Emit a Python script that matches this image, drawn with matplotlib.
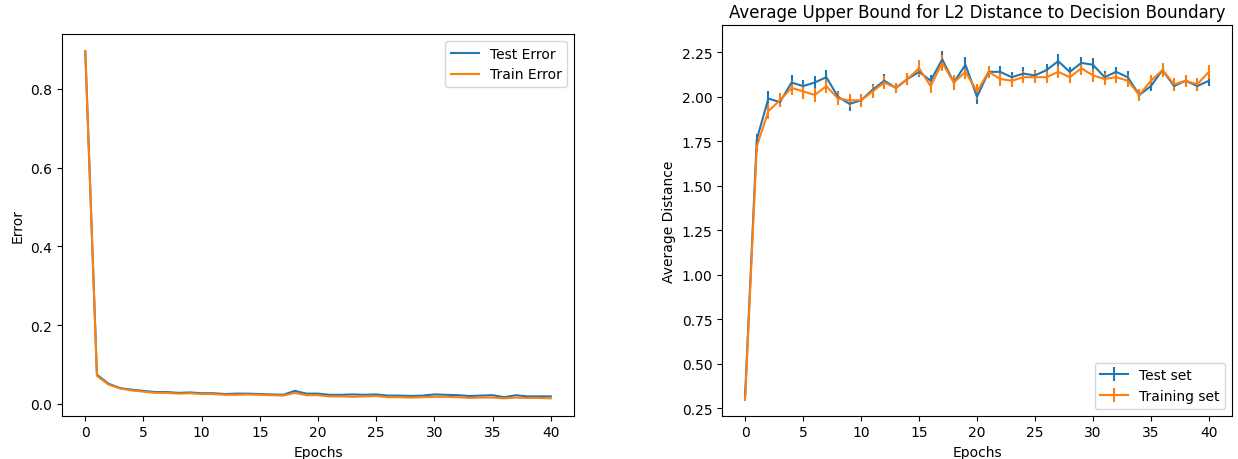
import numpy as np
import matplotlib
matplotlib.use("Agg")
import matplotlib.pyplot as plt

# ── Data ──────────────────────────────────────────────────────
epochs = list(range(41))

test_error = [0.895, 0.074, 0.051, 0.040, 0.036, 0.033, 0.030, 0.030, 0.028, 0.029,
              0.027, 0.027, 0.025, 0.026, 0.026, 0.025, 0.024, 0.023, 0.033, 0.026,
              0.026, 0.023, 0.023, 0.024, 0.023, 0.024, 0.021, 0.021, 0.020, 0.021,
              0.024, 0.023, 0.022, 0.020, 0.021, 0.022, 0.017, 0.022, 0.019, 0.019,
              0.019]
train_error = [0.895, 0.071, 0.049, 0.039, 0.034, 0.031, 0.028, 0.028, 0.026, 0.027,
               0.025, 0.025, 0.023, 0.023, 0.024, 0.023, 0.022, 0.021, 0.028, 0.022,
               0.022, 0.019, 0.019, 0.018, 0.019, 0.020, 0.017, 0.017, 0.016, 0.017,
               0.018, 0.018, 0.017, 0.015, 0.016, 0.016, 0.014, 0.016, 0.015, 0.015,
               0.014]

test_dist = [0.33, 1.76, 1.99, 1.97, 2.08, 2.06, 2.08, 2.11, 2.00, 1.96,
             1.98, 2.04, 2.09, 2.05, 2.10, 2.14, 2.09, 2.21, 2.08, 2.18,
             2.00, 2.14, 2.14, 2.11, 2.13, 2.12, 2.15, 2.20, 2.14, 2.19,
             2.18, 2.11, 2.14, 2.11, 2.01, 2.06, 2.15, 2.06, 2.09, 2.06,
             2.09]
test_err = [0.02, 0.03, 0.045, 0.03, 0.04, 0.035, 0.035, 0.04, 0.03, 0.04,
            0.03, 0.03, 0.04, 0.03, 0.035, 0.03, 0.03, 0.045, 0.035, 0.045,
            0.04, 0.035, 0.035, 0.03, 0.035, 0.03, 0.035, 0.04, 0.03, 0.035,
            0.04, 0.035, 0.03, 0.035, 0.03, 0.03, 0.035, 0.03, 0.03, 0.03,
            0.03]

train_dist = [0.31, 1.72, 1.92, 1.98, 2.05, 2.03, 2.01, 2.06, 1.99, 1.98,
              1.98, 2.03, 2.08, 2.05, 2.10, 2.16, 2.06, 2.19, 2.08, 2.14,
              2.03, 2.14, 2.10, 2.09, 2.11, 2.11, 2.11, 2.14, 2.11, 2.16,
              2.12, 2.10, 2.11, 2.09, 2.01, 2.09, 2.15, 2.07, 2.09, 2.07,
              2.14]
train_err = [0.02, 0.03, 0.045, 0.04, 0.04, 0.04, 0.04, 0.04, 0.035, 0.035,
             0.035, 0.035, 0.035, 0.03, 0.035, 0.045, 0.04, 0.045, 0.04, 0.04,
             0.04, 0.035, 0.04, 0.035, 0.035, 0.035, 0.035, 0.035, 0.035, 0.035,
             0.035, 0.035, 0.035, 0.035, 0.035, 0.035, 0.04, 0.035, 0.035, 0.035,
             0.04]

# ── Figure ───────────────────────────────────────────────────
fig = plt.figure(figsize=(12.38, 4.6), dpi=100)

ax1 = fig.add_axes([0.0501, 0.0941, 0.4136, 0.8298])
ax1.plot(epochs, test_error, label="Test Error")
ax1.plot(epochs, train_error, label="Train Error")
ax1.set_xlabel("Epochs")
ax1.set_ylabel("Error")
ax1.set_xticks(range(0, 41, 5))
ax1.legend(loc="upper right")

ax2 = fig.add_axes([0.5832, 0.0941, 0.4120, 0.8493])
ax2.errorbar(epochs, test_dist, yerr=test_err, label="Test set")
ax2.errorbar(epochs, train_dist, yerr=train_err, label="Training set")
ax2.set_title("Average Upper Bound for L2 Distance to Decision Boundary")
ax2.set_xlabel("Epochs")
ax2.set_ylabel("Average Distance")
ax2.set_xticks(range(0, 41, 5))
ax2.set_yticks(np.arange(0.25, 2.26, 0.25))
ax2.set_xlim(-2, 42)
ax2.set_ylim(0.208, 2.403)
ax2.legend(loc="lower right")

plt.savefig("out.png", dpi=100)
plt.close()
